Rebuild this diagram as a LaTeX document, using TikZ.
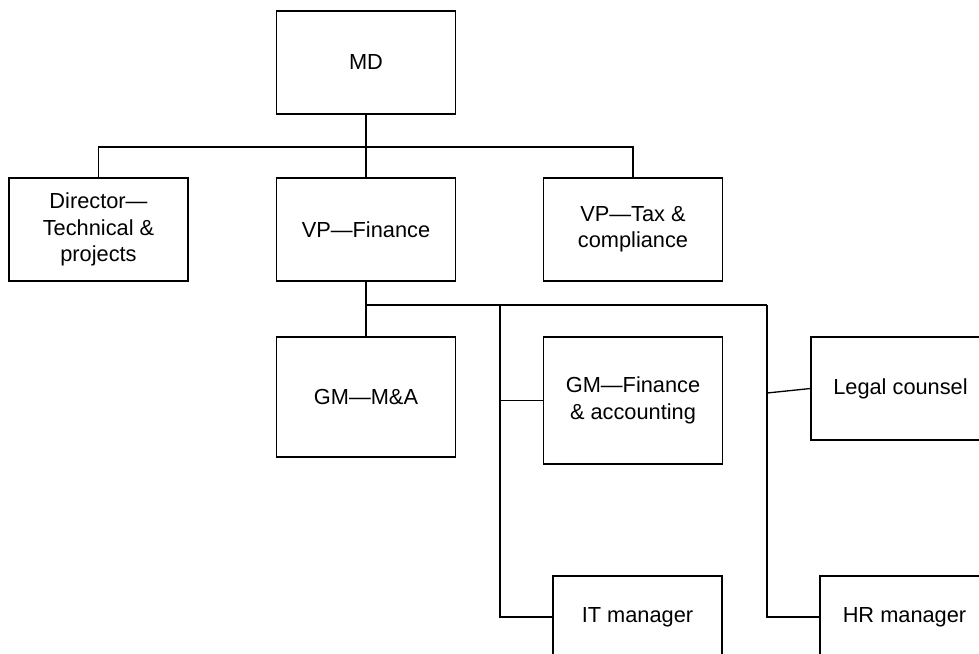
\documentclass[tikz,border=0pt]{standalone}
\usepackage{fontspec}
\setmainfont{Liberation Sans}
\usetikzlibrary{positioning}

\begin{document}
\begin{tikzpicture}[
    x=0.02cm, y=-0.02cm,
    box/.style={rectangle, draw=black, line width=0.75pt, align=center,
                minimum width=3.58cm, minimum height=2.06cm, inner sep=0pt,
                font=\fontsize{12.4}{15}\selectfont},
    link/.style={draw=black, line width=0.75pt}
]
    \useasboundingbox (0,0) rectangle (979,653);
    \clip (0,0) rectangle (979,653);

    % top level
    \node [box] (md) at (366,62.5) {MD};
    \node [box] (dir) at (98.5,229.5) {Director---\\Technical \&\\projects};
    \node [box] (vpf) at (366,229.5) {VP---Finance};
    \node [box] (vpt) at (633,229.5) {VP---Tax \&\\compliance};

    % under VP finance
    \node [box, minimum height=2.4cm] (gma) at (366,397) {GM---M\&A};
    \node [box, minimum height=2.54cm] (gmf) at (633,400.5) {GM---Finance\\\& accounting};
    \node [box] (legal) at (900.5,388.5) {Legal counsel};
    \node [box, minimum width=3.38cm, minimum height=1.64cm] (it) at (637.5,617) {IT manager};
    \node [box, minimum width=3.38cm, minimum height=1.64cm] (hr) at (904.5,617) {HR manager};

    \coordinate (busA) at (366,147);
    \coordinate (busB) at (366,305);
    \coordinate (dropIT) at (500,305);
    \coordinate (dropHR) at (767,305);
    \coordinate (tapLegal) at (767,393);

    \draw [link] (md) -- (busA);
    \draw [link] (dir.north) |- (busA) -| (vpt.north);
    \draw [link] (busA) -- (vpf);
    \draw [link] (vpf) -- (busB) -- (gma);
    \draw [link] (busB) -- (dropHR);
    \draw [link] (dropIT) |- (it.west);
    \draw [link] (dropIT |- gmf.west) -- (gmf.west);
    \draw [link] (dropHR) |- (hr.west);
    \draw [link] (tapLegal) -- (legal.west);
\end{tikzpicture}
\end{document}
